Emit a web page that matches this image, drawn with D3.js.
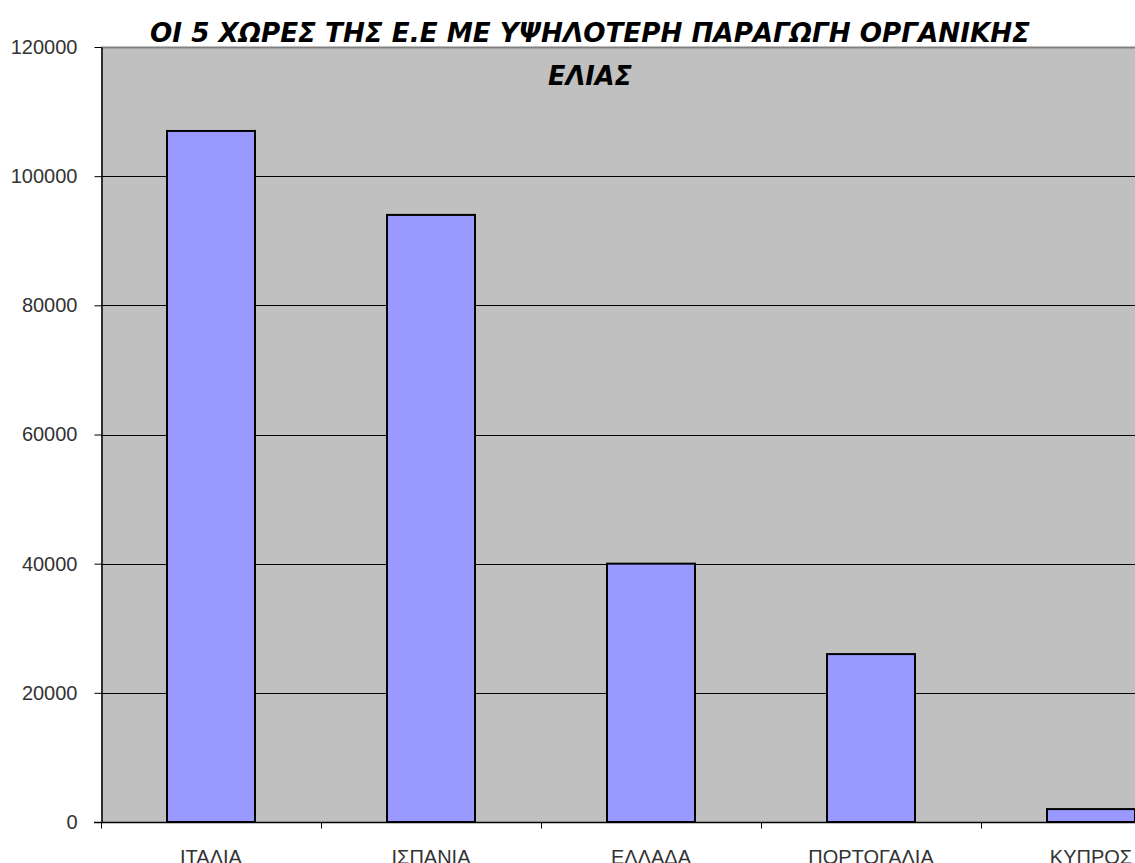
<!DOCTYPE html>
<html>
<head>
<meta charset="utf-8">
<script src="https://cdn.jsdelivr.net/npm/d3@7"></script>
<style>
	html, body { margin: 0; padding: 0; background: #fff; overflow: hidden; }
	svg { display: block; }
</style>
</head>
<body>
<div id="chart"></div>
<script>
// data
const countries = ['ΙΤΑΛΙΑ', 'ΙΣΠΑΝΙΑ', 'ΕΛΛΑΔΑ', 'ΠΟΡΤΟΓΑΛΙΑ', 'ΚΥΠΡΟΣ'];
const production = [107000, 94000, 40000, 26000, 2000];
const yTicks = [0, 20000, 40000, 60000, 80000, 100000, 120000];
const titleLines = ['ΟΙ 5 ΧΩΡΕΣ ΤΗΣ Ε.Ε ΜΕ ΥΨΗΛΟΤΕΡΗ ΠΑΡΑΓΩΓΗ ΟΡΓΑΝΙΚΗΣ', 'ΕΛΙΑΣ'];

let full_width  = 1135,
	full_height = 863,
	margins     = {left: 101, top: 47},
	width       = 1100,   // plot runs past the right edge, as in the picture
	height      = 775,
	labelFont   = '"Liberation Sans", Arial, sans-serif',
	labelColor  = '#333';

let data = countries.map(function(c, i){ return {name: c, value: production[i]}; });

let x = d3.scaleBand()
	.domain(countries)
	.range([0, width])
	.paddingInner(0.6)
	.paddingOuter(0.3);

let y = d3.scaleLinear()
	.domain([0, 120000])
	.range([height, 0]);

let svg = d3.select('#chart')
	.append('svg')
	.attr('width', full_width)
	.attr('height', full_height);

let g = svg.append('g')
	.attr('transform', 'translate(' + margins.left + ',' + margins.top + ')');

g.append('rect')
	.attr('width', width)
	.attr('height', height)
	.attr('fill', '#c0c0c0');

g.append('line')
	.attr('x1', 0).attr('x2', width)
	.attr('y1', 0.5).attr('y2', 0.5)
	.attr('stroke', '#808080')
	.attr('stroke-width', 2);

// gridlines
g.selectAll('.grid')
	.data(yTicks.filter(function(d){ return d > 0 && d < 120000; }))
	.enter()
	.append('line')
	.attr('class', 'grid')
	.attr('x1', 0).attr('x2', width)
	.attr('y1', function(d){ return Math.round(y(d)) + 0.5; })
	.attr('y2', function(d){ return Math.round(y(d)) + 0.5; })
	.attr('stroke', '#000')
	.attr('stroke-width', 1);

g.selectAll('.bar')
	.data(data)
	.enter()
	.append('rect')
	.attr('class', 'bar')
	.attr('x', function(d){ return x(d.name); })
	.attr('y', function(d){ return y(d.value); })
	.attr('width', x.bandwidth())
	.attr('height', function(d){ return height - y(d.value); })
	.attr('fill', '#9999ff')
	.attr('stroke', '#000')
	.attr('stroke-width', 2);

let yAxis = d3.axisLeft(y)
	.tickValues(yTicks)
	.tickFormat(d3.format('d'))
	.tickSize(7)
	.tickPadding(17)
	.tickSizeOuter(0);

let yG = g.append('g')
	.attr('class', 'axis axis--y')
	.attr('transform', 'translate(0.5,0)')
	.call(yAxis);

yG.select('.domain').attr('stroke', '#000').attr('stroke-width', 1.5);
yG.selectAll('line').attr('stroke', '#000');
yG.selectAll('text')
	.attr('font-family', labelFont)
	.attr('font-size', 20)
	.attr('fill', labelColor);

// x axis: tick marks sit between the categories
let xEdges = d3.scaleLinear().domain([0, countries.length]).range([0, width]);

let xAxis = g.append('g')
	.attr('class', 'axis axis--x')
	.attr('transform', 'translate(0,' + (height + 0.5) + ')');

xAxis.append('line')
	.attr('x1', -7).attr('x2', width)
	.attr('stroke', '#000')
	.attr('stroke-width', 1.5);

xAxis.selectAll('.xtick')
	.data(d3.range(0, countries.length + 1))
	.enter()
	.append('line')
	.attr('class', 'xtick')
	.attr('x1', function(d){ return Math.round(xEdges(d)) + 0.5; })
	.attr('x2', function(d){ return Math.round(xEdges(d)) + 0.5; })
	.attr('y1', 0).attr('y2', 6)
	.attr('stroke', '#000');

xAxis.selectAll('.xlabel')
	.data(countries)
	.enter()
	.append('text')
	.attr('class', 'xlabel')
	.attr('x', function(d){ return x(d) + x.bandwidth() / 2; })
	.attr('y', 41)
	.attr('text-anchor', 'middle')
	.attr('font-family', labelFont)
	.attr('font-size', 20)
	.attr('fill', labelColor)
	.text(function(d){ return d; });

// title
svg.append('text')
	.attr('x', 590)
	.attr('y', 42)
	.attr('text-anchor', 'middle')
	.attr('font-family', '"DejaVu Sans", sans-serif')
	.attr('font-weight', 'bold')
	.attr('font-style', 'italic')
	.attr('font-size', 26)
	.attr('textLength', 880)
	.attr('lengthAdjust', 'spacingAndGlyphs')
	.text(titleLines[0]);

svg.append('text')
	.attr('x', 590)
	.attr('y', 85)
	.attr('text-anchor', 'middle')
	.attr('font-family', '"DejaVu Sans", sans-serif')
	.attr('font-weight', 'bold')
	.attr('font-style', 'italic')
	.attr('font-size', 26)
	.attr('textLength', 84)
	.attr('lengthAdjust', 'spacingAndGlyphs')
	.text(titleLines[1]);
</script>
</body>
</html>
